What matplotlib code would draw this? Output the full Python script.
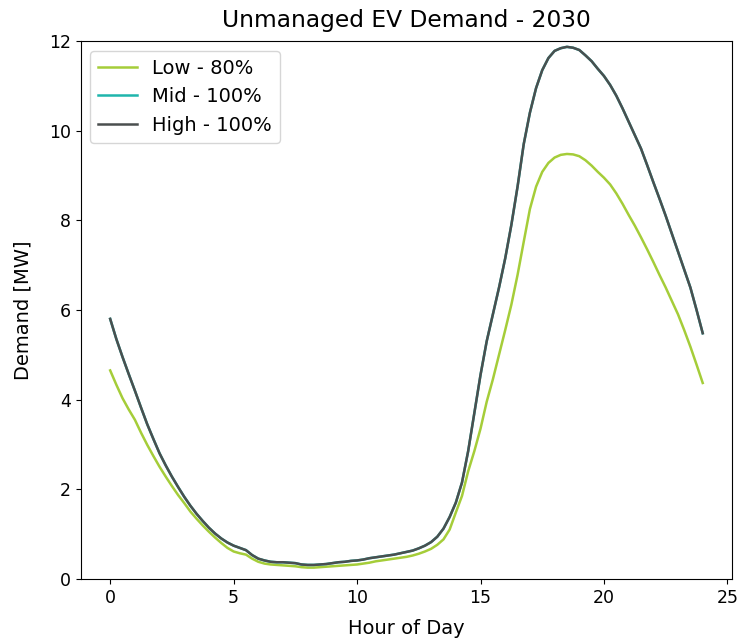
import numpy as np
import matplotlib
matplotlib.use('Agg')
import matplotlib.pyplot as plt
matplotlib.rcParams['font.size'] = 14
matplotlib.rcParams['xtick.labelsize'] = 12.5
matplotlib.rcParams['ytick.labelsize'] = 12.5

# quarter-hourly demand profile, MW
hours = np.arange(0, 24.25, 0.25)
high = [5.80, 5.35, 4.95, 4.57, 4.20, 3.82, 3.45, 3.12,
        2.80, 2.53, 2.28, 2.05, 1.83, 1.63, 1.45, 1.29,
        1.14, 1.01, 0.90, 0.81, 0.74, 0.69, 0.64, 0.53,
        0.45, 0.41, 0.38, 0.37, 0.37, 0.36, 0.35, 0.32,
        0.31, 0.31, 0.32, 0.33, 0.35, 0.37, 0.38, 0.40,
        0.41, 0.43, 0.46, 0.48, 0.50, 0.52, 0.54, 0.57,
        0.60, 0.63, 0.68, 0.74, 0.82, 0.94, 1.12, 1.38,
        1.70, 2.15, 2.85, 3.70, 4.55, 5.30, 5.90, 6.50,
        7.15, 7.90, 8.75, 9.70, 10.40, 10.95, 11.35, 11.62,
        11.78, 11.84, 11.87, 11.85, 11.80, 11.68, 11.55, 11.38,
        11.22, 11.02, 10.78, 10.50, 10.20, 9.90, 9.60, 9.23,
        8.85, 8.48, 8.10, 7.70, 7.30, 6.90, 6.50, 6.00,
        5.48]
mid = list(high)
low = [4.65, 4.33, 4.03, 3.78, 3.55, 3.26, 2.99, 2.74,
       2.50, 2.28, 2.07, 1.87, 1.69, 1.50, 1.34, 1.19,
       1.05, 0.92, 0.80, 0.69, 0.61, 0.57, 0.54, 0.45,
       0.38, 0.34, 0.32, 0.31, 0.30, 0.29, 0.28, 0.26,
       0.25, 0.25, 0.26, 0.27, 0.28, 0.29, 0.30, 0.31,
       0.32, 0.34, 0.36, 0.39, 0.41, 0.43, 0.45, 0.47,
       0.49, 0.52, 0.56, 0.61, 0.67, 0.76, 0.88, 1.10,
       1.48, 1.85, 2.40, 2.85, 3.35, 3.95, 4.45, 5.00,
       5.55, 6.12, 6.78, 7.52, 8.25, 8.75, 9.08, 9.28,
       9.40, 9.46, 9.48, 9.47, 9.43, 9.34, 9.22, 9.08,
       8.95, 8.80, 8.60, 8.37, 8.12, 7.88, 7.62, 7.35,
       7.07, 6.78, 6.50, 6.20, 5.90, 5.55, 5.18, 4.78,
       4.37]

fig = plt.figure(figsize=(7.39, 6.41), dpi=100)
ax = fig.add_axes([0.109, 0.097, 0.882, 0.839])
ax.plot(hours, low, color='#a5cd39', lw=1.8, label='Low - 80%')
ax.plot(hours, mid, color='#1fb5ac', lw=1.8, label='Mid - 100%')
ax.plot(hours, high, color='#4a4f4f', lw=1.8, label='High - 100%')
ax.set_ylim(0, 12)
ax.set_xticks([0, 5, 10, 15, 20, 25])
ax.set_xlabel("Hour of Day", labelpad=9)
ax.set_ylabel("Demand [MW]", labelpad=12)
ax.set_title("Unmanaged EV Demand - 2030", pad=10)
ax.legend(loc='upper left')
fig.savefig("out.png", dpi=100)
